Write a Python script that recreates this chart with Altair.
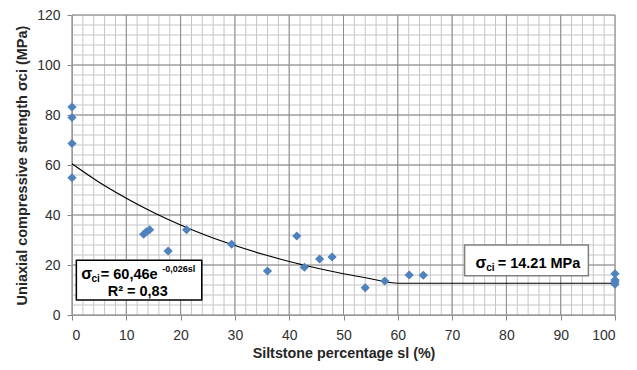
import altair as alt
import pandas as pd

# measured data points
sl = [0, 0, 0, 0, 13.2, 13.7, 14.3, 17.7, 21.1, 29.4, 36.0, 41.4, 42.8, 45.6,
      47.9, 54.0, 57.6, 62.1, 64.7, 100, 100, 100, 100]
sigma = [83.2, 79.0, 68.6, 54.9, 32.3, 33.3, 34.1, 25.6, 34.1, 28.3, 17.6, 31.6,
         19.1, 22.4, 23.2, 10.9, 13.6, 16.0, 15.9, 16.5, 14.0, 13.3, 12.3]

# trend line
curve_x = [0, 5, 10, 15, 20, 25, 30, 35, 40, 45, 50, 55, 60, 100]
curve_y = [60.5, 53.1, 46.7, 41.0, 36.0, 31.6, 27.8, 24.4, 21.4, 18.8, 16.5, 14.5, 12.7, 12.7]

# grid / tick values
x_minor = list(range(0, 101, 2))
y_minor = list(range(0, 121, 4))
x_major = list(range(0, 101, 10))
y_major = list(range(0, 121, 20))

W, H = 543, 300
FONT = "Liberation Sans"

xs = alt.Scale(domain=[0, 100], nice=False, zero=False)
ys = alt.Scale(domain=[0, 120], nice=False, zero=False)

pts = pd.DataFrame({"sl": sl, "sigma": sigma})
cur = pd.DataFrame({"x": curve_x, "y": curve_y})

xaxis = alt.Axis(values=x_major, grid=False, title="Siltstone percentage sl (%)",
                 domainColor="#868686", tickColor="#868686", tickSize=5,
                 labelFont=FONT, labelFontSize=14, labelColor="#303030", labelPadding=8,
                 titleFont=FONT, titleFontSize=14.3, titleFontWeight="bold",
                 titleColor="#262626", titlePadding=4)
yaxis = alt.Axis(values=y_major, grid=False, title="Uniaxial compressive strength σci (MPa)",
                 domainColor="#868686", tickColor="#868686", tickSize=5,
                 labelFont=FONT, labelFontSize=14, labelColor="#303030", labelPadding=7,
                 titleFont=FONT, titleFontSize=14.5, titleFontWeight="bold",
                 titleColor="#262626", titlePadding=7)

gx_minor = alt.Chart(pd.DataFrame({"v": x_minor})).mark_rule(color="#c4c4c4", strokeWidth=1).encode(
    x=alt.X("v:Q", scale=xs, axis=xaxis))
gy_minor = alt.Chart(pd.DataFrame({"v": y_minor})).mark_rule(color="#c4c4c4", strokeWidth=1).encode(
    y=alt.Y("v:Q", scale=ys, axis=yaxis))
gx_major = alt.Chart(pd.DataFrame({"v": x_major})).mark_rule(color="#8c8c8c", strokeWidth=1).encode(
    x=alt.X("v:Q", scale=xs))
gy_major = alt.Chart(pd.DataFrame({"v": y_major})).mark_rule(color="#8c8c8c", strokeWidth=1).encode(
    y=alt.Y("v:Q", scale=ys))

line = alt.Chart(cur).mark_line(color="black", strokeWidth=1.2, interpolate="monotone").encode(
    x=alt.X("x:Q", scale=xs), y=alt.Y("y:Q", scale=ys))

points = alt.Chart(pts).mark_point(shape="diamond", filled=True, color="#4f81bd",
                                   size=85, opacity=1).encode(
    x=alt.X("sl:Q", scale=xs), y=alt.Y("sigma:Q", scale=ys))

box1 = alt.Chart(pd.DataFrame({"a": [0]})).mark_rect(fill="white", stroke="black", strokeWidth=1.5).encode(
    x=alt.datum(0.8, scale=xs), x2=alt.datum(23.9), y=alt.datum(21.9, scale=ys), y2=alt.datum(6.0))
box2 = alt.Chart(pd.DataFrame({"a": [0]})).mark_rect(fill="white", stroke="#808080", strokeWidth=1.5).encode(
    x=alt.datum(72.3, scale=xs), x2=alt.datum(95.1), y=alt.datum(28.0, scale=ys), y2=alt.datum(15.7))


def txt(s, x, y, size, dy=0, align="left"):
    return alt.Chart(pd.DataFrame({"a": [0]})).mark_text(
        text=s, font=FONT, fontWeight="bold", fontSize=size, color="black",
        align=align, baseline="alphabetic", dy=dy).encode(
        x=alt.datum(x, scale=xs), y=alt.datum(y, scale=ys))


texts = [
    txt("σ", 1.7, 14.6, 16),
    txt("ci", 3.6, 14.6, 10, dy=3),
    txt("= 60,46e", 5.3, 14.6, 14.5),
    txt("-0,026sl", 16.6, 14.6, 9, dy=-7),
    txt("R² = 0,83", 12.1, 7.8, 14.5, align="center"),
    txt("σ", 74.3, 18.9, 16),
    txt("ci", 76.3, 18.9, 10, dy=3),
    txt("= 14.21 MPa", 78.4, 18.9, 14.5),
]

chart = alt.layer(gx_minor, gy_minor, gx_major, gy_major, line, points, box1, box2, *texts).properties(
    width=W, height=H,
    autosize=alt.AutoSizeParams(type="none"),
    padding={"left": 64, "top": 7, "right": 14, "bottom": 47},
).configure_view(stroke=None).configure(background="white")

chart.save("out.html", embed_options={"renderer": "svg", "actions": False})
